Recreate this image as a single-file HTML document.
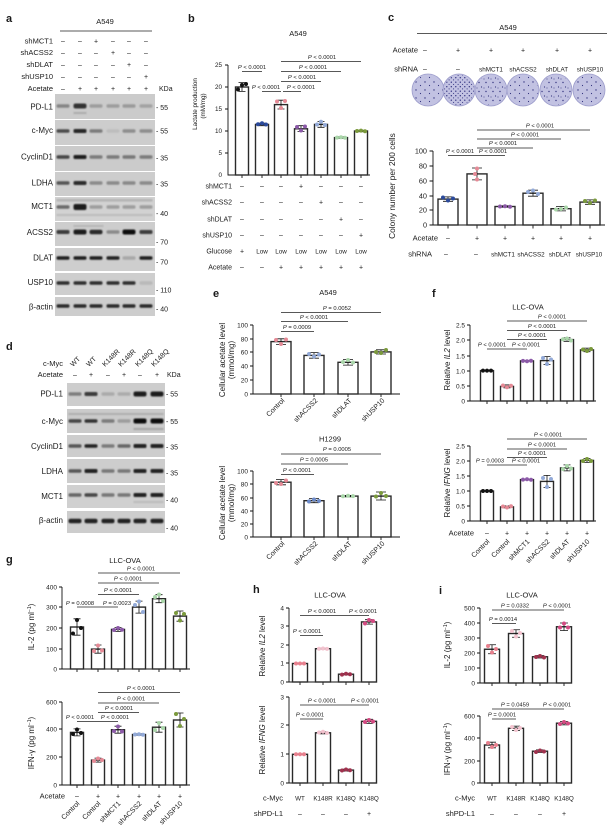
<!DOCTYPE html>
<html><head><meta charset="utf-8">
<style>
html,body{margin:0;padding:0;background:#fff;}
svg{display:block;}
text{font-family:"Liberation Sans",Arial,sans-serif;fill:#1a1a1a;}
.L{font-size:11px;font-weight:bold;}
.ti{font-size:7.5px;text-anchor:middle;}
.tk{font-size:6.5px;text-anchor:end;}
.yl{font-size:8px;text-anchor:middle;}
.r{font-size:7.5px;text-anchor:end;}
.c{font-size:7px;text-anchor:middle;}
.cs{font-size:6.3px;text-anchor:middle;}
.p{font-size:5.8px;text-anchor:middle;}
.bl{font-size:8px;text-anchor:end;}
.mk{font-size:7px;}
.xl{font-size:7px;text-anchor:end;}
.xs{font-size:7px;text-anchor:start;}
.ax{stroke:#111;stroke-width:0.9;fill:none;}
.bar{fill:#fff;stroke:#2a2a2a;stroke-width:1.4;}
.eb{stroke:#111;stroke-width:0.8;fill:none;}
.sg{stroke:#222;stroke-width:0.8;fill:none;}
.k{fill:#111}.nv{fill:#2b4a9c}.pk{fill:#e58a96}.pu{fill:#8c5aa8}.lb{fill:#93aad8}.gr{fill:#a9d6a9}.ol{fill:#7b9a3c}.bu{fill:#6c8bcb}
.hp{fill:#e8808e}.hl{fill:#f3c3cf}.hm{fill:#a0324e}.hg{fill:#d44a82}
</style></head><body>
<svg width="607" height="830" viewBox="0 0 607 830" xmlns="http://www.w3.org/2000/svg">
<defs>
<filter id="bf" x="-20%" y="-80%" width="140%" height="260%"><feGaussianBlur stdDeviation="0.7"/></filter>
<pattern id="d1" width="9" height="8" patternUnits="userSpaceOnUse">
<circle cx="2" cy="2" r="0.7" fill="#34347f"/><circle cx="6.5" cy="5.5" r="0.6" fill="#34347f"/></pattern>
<pattern id="d3" width="7" height="9" patternUnits="userSpaceOnUse">
<circle cx="3" cy="1.5" r="0.7" fill="#34347f"/><circle cx="5.5" cy="6" r="0.6" fill="#34347f"/><circle cx="1" cy="7" r="0.5" fill="#34347f"/></pattern>
<pattern id="d2" width="4.5" height="4.5" patternUnits="userSpaceOnUse">
<circle cx="1.3" cy="1.2" r="0.65" fill="#2a2a7a"/><circle cx="3.6" cy="3.4" r="0.55" fill="#2a2a7a"/></pattern>
</defs>

<!-- ===== Panel a ===== -->
<text class="L" x="6" y="22">a</text>
<text class="ti" x="105" y="24">A549</text>
<line class="sg" x1="60" y1="31" x2="152" y2="31"/>
<text class="r" x="53" y="43.5">shMCT1</text>
<text class="r" x="53" y="55">shACSS2</text>
<text class="r" x="53" y="67">shDLAT</text>
<text class="r" x="53" y="79">shUSP10</text>
<text class="r" x="53" y="91">Acetate</text>
<g class="c">
<text x="63" y="43.5">–</text><text x="80" y="43.5">–</text><text x="96" y="43.5">+</text><text x="113" y="43.5">–</text><text x="129" y="43.5">–</text><text x="146" y="43.5">–</text>
<text x="63" y="55">–</text><text x="80" y="55">–</text><text x="96" y="55">–</text><text x="113" y="55">+</text><text x="129" y="55">–</text><text x="146" y="55">–</text>
<text x="63" y="67">–</text><text x="80" y="67">–</text><text x="96" y="67">–</text><text x="113" y="67">–</text><text x="129" y="67">+</text><text x="146" y="67">–</text>
<text x="63" y="79">–</text><text x="80" y="79">–</text><text x="96" y="79">–</text><text x="113" y="79">–</text><text x="129" y="79">–</text><text x="146" y="79">+</text>
<text x="63" y="91">–</text><text x="80" y="91">+</text><text x="96" y="91">+</text><text x="113" y="91">+</text><text x="129" y="91">+</text><text x="146" y="91">+</text>
</g>
<text class="mk" x="159" y="91">KDa</text>
<rect x="55" y="94" width="100" height="25" fill="#cbcbcb"/>
<rect x="55" y="120" width="100" height="25" fill="#cdcdcd"/>
<rect x="55" y="146" width="100" height="25" fill="#cbcbcb"/>
<rect x="55" y="172" width="100" height="24" fill="#cdcdcd"/>
<rect x="55" y="197" width="100" height="24" fill="#d2d2d2"/>
<rect x="55" y="222" width="100" height="24" fill="#cdcdcd"/>
<rect x="55" y="248" width="100" height="23" fill="#cecece"/>
<rect x="55" y="273" width="100" height="22" fill="#cecece"/>
<rect x="55" y="297" width="100" height="19" fill="#cdcdcd"/>
<g filter="url(#bf)">
<rect x="56.5" y="104.2" width="13" height="3.6" rx="1.5" fill="#858585"/><rect x="73.5" y="103.5" width="13" height="5" rx="2" fill="#333"/><rect x="89.5" y="104.2" width="13" height="3.6" rx="1.5" fill="#9c9c9c"/><rect x="106.5" y="104.2" width="13" height="3.6" rx="1.5" fill="#9c9c9c"/><rect x="122.5" y="104.2" width="13" height="3.6" rx="1.5" fill="#999"/><rect x="139.5" y="104.2" width="13" height="3.6" rx="1.5" fill="#a2a2a2"/>
<rect x="73.5" y="112" width="13" height="2" fill="#ababab"/>
<rect x="56.5" y="129.2" width="13" height="3.6" rx="1.5" fill="#4a4a4a"/><rect x="73.5" y="129" width="13" height="4" rx="1.5" fill="#262626"/><rect x="89.5" y="129.2" width="13" height="3.6" rx="1.5" fill="#7a7a7a"/><rect x="106.5" y="129.2" width="13" height="3.6" rx="1.5" fill="#bdbdbd"/><rect x="122.5" y="129.2" width="13" height="3.6" rx="1.5" fill="#8d8d8d"/><rect x="139.5" y="129.2" width="13" height="3.6" rx="1.5" fill="#8d8d8d"/>
<rect x="56.5" y="155.2" width="13" height="3.6" rx="1.5" fill="#444"/><rect x="73.5" y="155" width="13" height="4" rx="1.5" fill="#1e1e1e"/><rect x="89.5" y="155.2" width="13" height="3.6" rx="1.5" fill="#7a7a7a"/><rect x="106.5" y="155.2" width="13" height="3.6" rx="1.5" fill="#7a7a7a"/><rect x="122.5" y="155.2" width="13" height="3.6" rx="1.5" fill="#777"/><rect x="139.5" y="155.2" width="13" height="3.6" rx="1.5" fill="#7a7a7a"/>
<rect x="56.5" y="181.2" width="13" height="3.6" rx="1.5" fill="#555"/><rect x="73.5" y="181" width="13" height="4" rx="1.5" fill="#2a2a2a"/><rect x="89.5" y="181.2" width="13" height="3.6" rx="1.5" fill="#8a8a8a"/><rect x="106.5" y="181.2" width="13" height="3.6" rx="1.5" fill="#8a8a8a"/><rect x="122.5" y="181.2" width="13" height="3.6" rx="1.5" fill="#888"/><rect x="139.5" y="181.2" width="13" height="3.6" rx="1.5" fill="#8a8a8a"/>
<rect x="56.5" y="199" width="96" height="2.5" fill="#b3b3b3"/>
<rect x="56.5" y="205.2" width="13" height="3.6" rx="1.5" fill="#6a6a6a"/><rect x="73.5" y="204" width="13" height="6" rx="2" fill="#1a1a1a"/><rect x="89.5" y="205.2" width="13" height="3.6" rx="1.5" fill="#9d9d9d"/><rect x="106.5" y="205.2" width="13" height="3.6" rx="1.5" fill="#9d9d9d"/><rect x="122.5" y="205.2" width="13" height="3.6" rx="1.5" fill="#9d9d9d"/><rect x="139.5" y="205.2" width="13" height="3.6" rx="1.5" fill="#9d9d9d"/>
<rect x="56.5" y="214" width="96" height="2" fill="#bbb"/>
<rect x="73.5" y="225" width="30" height="2" fill="#b5b5b5"/>
<rect x="56.5" y="230" width="13" height="4" rx="1.5" fill="#3a3a3a"/><rect x="73.5" y="229.5" width="13" height="5" rx="2" fill="#1a1a1a"/><rect x="89.5" y="229.8" width="13" height="4.4" rx="2" fill="#2a2a2a"/><rect x="106.5" y="230.2" width="13" height="3.6" rx="1.5" fill="#8a8a8a"/><rect x="122.5" y="229.5" width="13" height="5" rx="2" fill="#111"/><rect x="139.5" y="230" width="13" height="4" rx="1.5" fill="#3c3c3c"/>
<rect x="56.5" y="256.3" width="13" height="3.4" rx="1.5" fill="#1e1e1e"/><rect x="73.5" y="256.3" width="13" height="3.4" rx="1.5" fill="#1e1e1e"/><rect x="89.5" y="256.3" width="13" height="3.4" rx="1.5" fill="#1e1e1e"/><rect x="106.5" y="256.3" width="13" height="3.4" rx="1.5" fill="#222"/><rect x="122.5" y="256.3" width="13" height="3.4" rx="1.5" fill="#a8a8a8"/><rect x="139.5" y="256.3" width="13" height="3.4" rx="1.5" fill="#1e1e1e"/>
<rect x="56.5" y="281.3" width="13" height="3.4" rx="1.5" fill="#2e2e2e"/><rect x="73.5" y="281.3" width="13" height="3.4" rx="1.5" fill="#2e2e2e"/><rect x="89.5" y="281.3" width="13" height="3.4" rx="1.5" fill="#2e2e2e"/><rect x="106.5" y="281.3" width="13" height="3.4" rx="1.5" fill="#2e2e2e"/><rect x="122.5" y="281.3" width="13" height="3.4" rx="1.5" fill="#2e2e2e"/><rect x="139.5" y="281.3" width="13" height="3.4" rx="1.5" fill="#b8b8b8"/>
<rect x="56.5" y="304.3" width="13" height="3.4" rx="1.5" fill="#2a2a2a"/><rect x="73.5" y="304.3" width="13" height="3.4" rx="1.5" fill="#2a2a2a"/><rect x="89.5" y="304.3" width="13" height="3.4" rx="1.5" fill="#2a2a2a"/><rect x="106.5" y="304.3" width="13" height="3.4" rx="1.5" fill="#2a2a2a"/><rect x="122.5" y="304.3" width="13" height="3.4" rx="1.5" fill="#2a2a2a"/><rect x="139.5" y="304.3" width="13" height="3.4" rx="1.5" fill="#2a2a2a"/>
</g>
<text class="bl" x="53" y="109.5">PD-L1</text>
<text class="bl" x="53" y="133">c-Myc</text>
<text class="bl" x="53" y="159.5">CyclinD1</text>
<text class="bl" x="53" y="185.5">LDHA</text>
<text class="bl" x="53" y="209">MCT1</text>
<text class="bl" x="53" y="235">ACSS2</text>
<text class="bl" x="53" y="260.5">DLAT</text>
<text class="bl" x="53" y="285">USP10</text>
<text class="bl" x="53" y="309.5">β-actin</text>
<text class="mk" x="156" y="110">- 55</text>
<text class="mk" x="156" y="133.5">- 55</text>
<text class="mk" x="156" y="160.5">- 35</text>
<text class="mk" x="156" y="186.5">- 35</text>
<text class="mk" x="156" y="216">- 40</text>
<text class="mk" x="156" y="244.5">- 70</text>
<text class="mk" x="156" y="264.5">- 70</text>
<text class="mk" x="156" y="292.5">- 110</text>
<text class="mk" x="156" y="311.5">- 40</text>

<!-- ===== Panel b ===== -->
<text class="L" x="188" y="22">b</text>
<text class="ti" x="298" y="36">A549</text>
<text style="font-size:6.3px;text-anchor:middle" transform="translate(197,104) rotate(-90)">Lactate production</text>
<text style="font-size:6.3px;text-anchor:middle" transform="translate(205,106) rotate(-90)">(mM/mg)</text>
<path class="ax" d="M228,65V175H370M225,65H228M225,87H228M225,109H228M225,131H228M225,153H228M242,175V178M262,175V178M281,175V178M301,175V178M321,175V178M341,175V178M361,175V178"/>
<g style="font-size:6.3px;text-anchor:end">
<text x="222" y="67.2">25</text><text x="222" y="89.2">20</text><text x="222" y="111.2">15</text><text x="222" y="133.2">10</text><text x="222" y="155.2">5</text><text x="222" y="177.2">0</text></g>
<rect class="bar" x="235.5" y="87" width="13" height="88"/>
<rect class="bar" x="255.5" y="124.4" width="13" height="50.6"/>
<rect class="bar" x="274.5" y="104.6" width="13" height="70.4"/>
<rect class="bar" x="294.5" y="128.8" width="13" height="46.2"/>
<rect class="bar" x="314.5" y="124.4" width="13" height="50.6"/>
<rect class="bar" x="334.5" y="137.6" width="13" height="37.4"/>
<rect class="bar" x="354.5" y="131" width="13" height="44"/>
<path class="eb" d="M242,82.6V91.4M238.5,82.6H245.5M238.5,91.4H245.5M262,123.1V125.7M258.5,123.1H265.5M258.5,125.7H265.5M281,100.2V109M277.5,100.2H284.5M277.5,109H284.5M301,125.7V131.4M297.5,125.7H304.5M297.5,131.4H304.5M321,121.5V127.3M317.5,121.5H324.5M317.5,127.3H324.5M337.5,136.8H344.5M337.5,138.4H344.5M357.5,130.3H364.5M357.5,131.7H364.5"/>
<circle class="k" cx="238" cy="89.5" r="2"/><circle class="k" cx="242" cy="85" r="2"/><circle class="k" cx="246" cy="84" r="2"/>
<circle class="nv" cx="258" cy="124.2" r="2"/><circle class="nv" cx="262" cy="123.3" r="2"/><circle class="nv" cx="266" cy="124.5" r="2"/>
<circle class="pk" cx="277" cy="101.5" r="2"/><circle class="pk" cx="281" cy="108" r="2"/><circle class="pk" cx="285" cy="101" r="2"/>
<circle class="pu" cx="297" cy="127" r="2"/><circle class="pu" cx="301" cy="130.5" r="2"/><circle class="pu" cx="305" cy="126.5" r="2"/>
<circle class="lb" cx="317" cy="124.5" r="2"/><circle class="lb" cx="321" cy="121.8" r="2"/><circle class="lb" cx="325" cy="125" r="2"/>
<circle class="gr" cx="337" cy="137.6" r="2"/><circle class="gr" cx="341" cy="137.2" r="2"/><circle class="gr" cx="345" cy="137.8" r="2"/>
<circle class="ol" cx="357" cy="131" r="2"/><circle class="ol" cx="361" cy="130.6" r="2"/><circle class="ol" cx="365" cy="131.2" r="2"/>
<path class="sg" d="M242,71.5H262M262,91.5H281M283,91.5H301M281,81.5H321M281,71.5H341M281,61.5H361"/>
<text class="p" x="252" y="69"><tspan font-style="italic">P</tspan> &lt; 0.0001</text>
<text class="p" x="266" y="89"><tspan font-style="italic">P</tspan> &lt; 0.0001</text>
<text class="p" x="301" y="89"><tspan font-style="italic">P</tspan> &lt; 0.0001</text>
<text class="p" x="302" y="79"><tspan font-style="italic">P</tspan> &lt; 0.0001</text>
<text class="p" x="313" y="69"><tspan font-style="italic">P</tspan> &lt; 0.0001</text>
<text class="p" x="322" y="59"><tspan font-style="italic">P</tspan> &lt; 0.0001</text>
<g style="font-size:7px;text-anchor:end">
<text x="232" y="188.5">shMCT1</text><text x="232" y="204.5">shACSS2</text><text x="232" y="221.5">shDLAT</text><text x="232" y="237.5">shUSP10</text><text x="232" y="253.5">Glucose</text><text x="232" y="269.5">Acetate</text></g>
<g class="c">
<text x="242" y="188.5">–</text><text x="262" y="188.5">–</text><text x="281" y="188.5">–</text><text x="301" y="188.5">+</text><text x="321" y="188.5">–</text><text x="341" y="188.5">–</text><text x="361" y="188.5">–</text>
<text x="242" y="204.5">–</text><text x="262" y="204.5">–</text><text x="281" y="204.5">–</text><text x="301" y="204.5">–</text><text x="321" y="204.5">+</text><text x="341" y="204.5">–</text><text x="361" y="204.5">–</text>
<text x="242" y="221.5">–</text><text x="262" y="221.5">–</text><text x="281" y="221.5">–</text><text x="301" y="221.5">–</text><text x="321" y="221.5">–</text><text x="341" y="221.5">+</text><text x="361" y="221.5">–</text>
<text x="242" y="237.5">–</text><text x="262" y="237.5">–</text><text x="281" y="237.5">–</text><text x="301" y="237.5">–</text><text x="321" y="237.5">–</text><text x="341" y="237.5">–</text><text x="361" y="237.5">+</text>
<text x="242" y="253.5">+</text>
<text x="242" y="269.5">–</text><text x="262" y="269.5">–</text><text x="281" y="269.5">+</text><text x="301" y="269.5">+</text><text x="321" y="269.5">+</text><text x="341" y="269.5">+</text><text x="361" y="269.5">+</text>
</g>
<g class="cs"><text x="262" y="253.5">Low</text><text x="281" y="253.5">Low</text><text x="301" y="253.5">Low</text><text x="321" y="253.5">Low</text><text x="341" y="253.5">Low</text><text x="361" y="253.5">Low</text></g>

<!-- ===== Panel c ===== -->
<text class="L" x="388" y="21">c</text>
<text class="ti" x="508" y="30">A549</text>
<line class="sg" x1="417" y1="33.5" x2="607" y2="33.5"/>
<text class="r" x="418" y="52.5">Acetate</text>
<text class="r" x="418" y="71.5">shRNA</text>
<g class="c">
<text x="425" y="52.5">–</text><text x="458" y="52.5">+</text><text x="491" y="52.5">+</text><text x="523" y="52.5">+</text><text x="557" y="52.5">+</text><text x="590" y="52.5">+</text>
<text x="425" y="71.5">–</text><text x="458" y="71.5">–</text></g>
<g class="cs"><text x="491" y="71.5">shMCT1</text><text x="523" y="71.5">shACSS2</text><text x="557" y="71.5">shDLAT</text><text x="590" y="71.5">shUSP10</text></g>
<g stroke="#9c9ccb" stroke-width="0.8" fill="#c2c2e2">
<circle cx="428" cy="90" r="16"/><circle cx="459" cy="90" r="16"/><circle cx="491" cy="90" r="16"/><circle cx="523" cy="90" r="16"/><circle cx="556" cy="90" r="16"/><circle cx="589" cy="90" r="16"/></g>
<circle cx="428" cy="90" r="15" fill="url(#d1)"/>
<circle cx="459" cy="90" r="15" fill="url(#d2)"/>
<circle cx="491" cy="90" r="15" fill="url(#d3)"/>
<circle cx="523" cy="90" r="15" fill="url(#d1)"/>
<circle cx="556" cy="90" r="15" fill="url(#d3)"/>
<circle cx="589" cy="90" r="15" fill="url(#d1)"/>
<text style="font-size:8.3px;text-anchor:middle" transform="translate(395,186) rotate(-90)">Colony number per 200 cells</text>
<path class="ax" d="M433,151V225H605M429.5,151H433M429.5,166H433M429.5,181H433M429.5,196H433M429.5,210H433M429.5,225H433M448,225V228.5M477,225V228.5M505,225V228.5M533,225V228.5M561,225V228.5M590,225V228.5"/>
<g style="font-size:7.3px;text-anchor:end">
<text x="427" y="153.5">100</text><text x="427" y="168.5">80</text><text x="427" y="183.5">60</text><text x="427" y="198.5">40</text><text x="427" y="212.5">20</text><text x="427" y="227.5">0</text></g>
<rect class="bar" x="438" y="199.1" width="20" height="25.9"/>
<rect class="bar" x="467" y="173.9" width="20" height="51.1"/>
<rect class="bar" x="495" y="206.5" width="20" height="18.5"/>
<rect class="bar" x="523" y="193.2" width="20" height="31.8"/>
<rect class="bar" x="551" y="208.7" width="20" height="16.3"/>
<rect class="bar" x="580" y="202.1" width="20" height="22.9"/>
<path class="eb" d="M448,196.9V201.3M443,196.9H453M443,201.3H453M477,168V179.9M472,168H482M472,179.9H482M500,205.8H510M500,207.2H510M533,190.2V196.2M528,190.2H538M528,196.2H538M561,206.5V210.9M556,206.5H566M556,210.9H566M590,199.9V204.3M585,199.9H595M585,204.3H595"/>
<circle class="nv" cx="443" cy="197.5" r="2"/><circle class="nv" cx="448" cy="200.5" r="2"/><circle class="nv" cx="453" cy="198.5" r="2"/>
<circle class="pk" cx="477" cy="168.5" r="2"/><circle class="pk" cx="475" cy="174" r="2"/><circle class="pk" cx="477" cy="179.5" r="2"/>
<circle class="pu" cx="500" cy="206.5" r="2"/><circle class="pu" cx="505" cy="206.3" r="2"/><circle class="pu" cx="510" cy="206.7" r="2"/>
<circle class="lb" cx="528" cy="192" r="2"/><circle class="lb" cx="533" cy="190.5" r="2"/><circle class="lb" cx="538" cy="194" r="2"/>
<circle class="gr" cx="556" cy="209.5" r="2"/><circle class="gr" cx="561" cy="209" r="2"/><circle class="gr" cx="566" cy="207.5" r="2"/>
<circle class="ol" cx="585" cy="201" r="2"/><circle class="ol" cx="590" cy="203" r="2"/><circle class="ol" cx="595" cy="200.5" r="2"/>
<path class="sg" d="M448,155.5H477M477,155.5H505M477,148H533M477,139H561M477,130H590"/>
<text class="p" x="460" y="153"><tspan font-style="italic">P</tspan> &lt; 0.0001</text>
<text class="p" x="493" y="153"><tspan font-style="italic">P</tspan> &lt; 0.0001</text>
<text class="p" x="503" y="145"><tspan font-style="italic">P</tspan> &lt; 0.0001</text>
<text class="p" x="525" y="136.5"><tspan font-style="italic">P</tspan> &lt; 0.0001</text>
<text class="p" x="540" y="127.5"><tspan font-style="italic">P</tspan> &lt; 0.0001</text>
<text class="r" x="438" y="240.5">Acetate</text>
<text class="r" x="432" y="256.5">shRNA</text>
<g class="c"><text x="448" y="240.5">–</text><text x="477" y="240.5">+</text><text x="505" y="240.5">+</text><text x="533" y="240.5">+</text><text x="561" y="240.5">+</text><text x="590" y="240.5">+</text>
<text x="446" y="256.5">–</text><text x="476" y="256.5">–</text></g>
<g class="cs"><text x="503" y="256.5">shMCT1</text><text x="531" y="256.5">shACSS2</text><text x="560" y="256.5">shDLAT</text><text x="589" y="256.5">shUSP10</text></g>

<!-- ===== Panel d ===== -->
<text class="L" x="6" y="350">d</text>
<g class="xs">
<text transform="translate(73,367) rotate(-45)">WT</text>
<text transform="translate(89,367) rotate(-45)">WT</text>
<text transform="translate(105,367) rotate(-45)">K148R</text>
<text transform="translate(121,367) rotate(-45)">K148R</text>
<text transform="translate(138,367) rotate(-45)">K148Q</text>
<text transform="translate(154,367) rotate(-45)">K148Q</text></g>
<text class="r" x="63" y="366">c-Myc</text>
<text class="r" x="63" y="377">Acetate</text>
<g class="c"><text x="75" y="377">–</text><text x="91" y="377">+</text><text x="108" y="377">–</text><text x="124" y="377">+</text><text x="140" y="377">–</text><text x="157" y="377">+</text></g>
<text class="mk" x="167" y="377">KDa</text>
<rect x="67" y="383" width="98" height="23" fill="#cdcdcd"/>
<rect x="67" y="409" width="98" height="24" fill="#cbcbcb"/>
<rect x="67" y="435" width="98" height="22" fill="#cdcdcd"/>
<rect x="67" y="459" width="98" height="24" fill="#cdcdcd"/>
<rect x="67" y="485" width="98" height="23" fill="#d0d0d0"/>
<rect x="67" y="511" width="98" height="22" fill="#cdcdcd"/>
<g filter="url(#bf)">
<rect x="68.5" y="392.2" width="13" height="3.6" rx="1.5" fill="#7d7d7d"/><rect x="84.5" y="392" width="13" height="4" rx="1.5" fill="#3a3a3a"/><rect x="101.5" y="392.2" width="13" height="3.6" rx="1.5" fill="#aaa"/><rect x="117.5" y="392.2" width="13" height="3.6" rx="1.5" fill="#ababab"/><rect x="133.5" y="391.5" width="13" height="5" rx="2" fill="#1e1e1e"/><rect x="150.5" y="391.5" width="13" height="5" rx="2" fill="#1a1a1a"/>
<rect x="68.5" y="413" width="95" height="2" fill="#adadad"/>
<rect x="68.5" y="419.2" width="13" height="3.6" rx="1.5" fill="#444"/><rect x="84.5" y="419.2" width="13" height="3.6" rx="1.5" fill="#333"/><rect x="101.5" y="419.2" width="13" height="3.6" rx="1.5" fill="#7a7a7a"/><rect x="117.5" y="419.2" width="13" height="3.6" rx="1.5" fill="#9c9c9c"/><rect x="133.5" y="418.5" width="13" height="5" rx="2" fill="#111"/><rect x="150.5" y="418.5" width="13" height="5" rx="2" fill="#111"/>
<rect x="133.5" y="428" width="30" height="2" fill="#a5a5a5"/>
<rect x="68.5" y="444.2" width="13" height="3.6" rx="1.5" fill="#555"/><rect x="84.5" y="444.2" width="13" height="3.6" rx="1.5" fill="#222"/><rect x="101.5" y="444.2" width="13" height="3.6" rx="1.5" fill="#7a7a7a"/><rect x="117.5" y="444.2" width="13" height="3.6" rx="1.5" fill="#666"/><rect x="133.5" y="444" width="13" height="4" rx="1.5" fill="#222"/><rect x="150.5" y="444" width="13" height="4" rx="1.5" fill="#222"/>
<rect x="68.5" y="469.2" width="13" height="3.6" rx="1.5" fill="#555"/><rect x="84.5" y="469" width="13" height="4" rx="1.5" fill="#222"/><rect x="101.5" y="469.2" width="13" height="3.6" rx="1.5" fill="#777"/><rect x="117.5" y="469.2" width="13" height="3.6" rx="1.5" fill="#777"/><rect x="133.5" y="469" width="13" height="4" rx="1.5" fill="#222"/><rect x="150.5" y="469" width="13" height="4" rx="1.5" fill="#222"/>
<rect x="68.5" y="493.2" width="13" height="3.6" rx="1.5" fill="#666"/><rect x="84.5" y="493.2" width="13" height="3.6" rx="1.5" fill="#444"/><rect x="101.5" y="493.2" width="13" height="3.6" rx="1.5" fill="#777"/><rect x="117.5" y="493.2" width="13" height="3.6" rx="1.5" fill="#777"/><rect x="133.5" y="493" width="13" height="4" rx="1.5" fill="#222"/><rect x="150.5" y="493" width="13" height="4" rx="1.5" fill="#222"/>
<rect x="133.5" y="501" width="30" height="2" fill="#bbb"/>
<rect x="68.5" y="518.8" width="13" height="4.4" rx="2" fill="#222"/><rect x="84.5" y="518.8" width="13" height="4.4" rx="2" fill="#222"/><rect x="101.5" y="518.8" width="13" height="4.4" rx="2" fill="#222"/><rect x="117.5" y="518.8" width="13" height="4.4" rx="2" fill="#222"/><rect x="133.5" y="518.8" width="13" height="4.4" rx="2" fill="#222"/><rect x="150.5" y="518.8" width="13" height="4.4" rx="2" fill="#222"/>
</g>
<text class="bl" x="63" y="396.5">PD-L1</text>
<text class="bl" x="63" y="424">c-Myc</text>
<text class="bl" x="63" y="449">CyclinD1</text>
<text class="bl" x="63" y="474">LDHA</text>
<text class="bl" x="63" y="499">MCT1</text>
<text class="bl" x="63" y="523">β-actin</text>
<text class="mk" x="166" y="396.5">- 55</text>
<text class="mk" x="166" y="424">- 55</text>
<text class="mk" x="166" y="449.5">- 35</text>
<text class="mk" x="166" y="475.5">- 35</text>
<text class="mk" x="166" y="502.5">- 40</text>
<text class="mk" x="166" y="530.5">- 40</text>

<!-- ===== Panel e ===== -->
<text class="L" x="213" y="297">e</text>
<text class="ti" x="328" y="295">A549</text>
<text class="yl" transform="translate(225,360) rotate(-90)">Cellular acetate level</text>
<text class="yl" transform="translate(234,360) rotate(-90)">(mmol/mg)</text>
<path class="ax" d="M253,325V394H400M250,325H253M250,339H253M250,352H253M250,366H253M250,380H253M250,394H253M281,394V397M314,394V397M348,394V397M381,394V397"/>
<g class="tk"><text x="248" y="327.3">100</text><text x="248" y="341.3">80</text><text x="248" y="354.3">60</text><text x="248" y="368.3">40</text><text x="248" y="382.3">20</text><text x="248" y="396.3">0</text></g>
<rect class="bar" x="271" y="341.6" width="20" height="52.4"/>
<rect class="bar" x="304" y="355.4" width="20" height="38.6"/>
<rect class="bar" x="338" y="362.3" width="20" height="31.7"/>
<rect class="bar" x="371" y="351.9" width="20" height="42.1"/>
<path class="eb" d="M281,338.8V344.4M276,338.8H286M276,344.4H286M314,352.6V358.2M309,352.6H319M309,358.2H319M348,359.5V365.1M343,359.5H353M343,365.1H353M381,349.8V354M376,349.8H386M376,354H386"/>
<circle class="pk" cx="276" cy="340" r="2"/><circle class="pk" cx="281" cy="344" r="2"/><circle class="pk" cx="286" cy="339.5" r="2"/>
<circle class="lb" cx="309" cy="354" r="2"/><circle class="lb" cx="314" cy="356.5" r="2"/><circle class="lb" cx="319" cy="354.5" r="2"/>
<circle class="gr" cx="343" cy="362" r="2"/><circle class="gr" cx="348" cy="360" r="2"/><circle class="gr" cx="353" cy="362.5" r="2"/>
<circle class="ol" cx="376" cy="352" r="2"/><circle class="ol" cx="381" cy="353" r="2"/><circle class="ol" cx="386" cy="350" r="2"/>
<path class="sg" d="M281,331.5H314M281,321.5H348M281,312.5H381"/>
<text class="p" x="297" y="329"><tspan font-style="italic">P</tspan> = 0.0009</text>
<text class="p" x="314" y="319"><tspan font-style="italic">P</tspan> &lt; 0.0001</text>
<text class="p" x="337" y="310"><tspan font-style="italic">P</tspan> = 0.0052</text>
<g class="xl"><text transform="translate(285,401) rotate(-45)">Control</text><text transform="translate(318,401) rotate(-45)">shACSS2</text><text transform="translate(352,401) rotate(-45)">shDLAT</text><text transform="translate(385,401) rotate(-45)">shUSP10</text></g>

<text class="ti" x="330" y="441.5">H1299</text>
<text class="yl" transform="translate(225,503) rotate(-90)">Cellular acetate level</text>
<text class="yl" transform="translate(234,503) rotate(-90)">(mmol/mg)</text>
<path class="ax" d="M253,471V537H400M250,471H253M250,484H253M250,498H253M250,511H253M250,524H253M250,537H253M281,537V540M314,537V540M348,537V540M381,537V540"/>
<g class="tk"><text x="248" y="473.3">100</text><text x="248" y="486.3">80</text><text x="248" y="500.3">60</text><text x="248" y="513.3">40</text><text x="248" y="526.3">20</text><text x="248" y="539.3">0</text></g>
<rect class="bar" x="271" y="482.2" width="20" height="54.8"/>
<rect class="bar" x="304" y="500.7" width="20" height="36.3"/>
<rect class="bar" x="338" y="496.1" width="20" height="40.9"/>
<rect class="bar" x="371" y="496.1" width="20" height="40.9"/>
<path class="eb" d="M281,479.6V484.8M276,479.6H286M276,484.8H286M314,498.7V502.7M309,498.7H319M309,502.7H319M343,495.4H353M343,496.8H353M381,492V500M376,492H386M376,500H386"/>
<circle class="pk" cx="276" cy="483" r="2"/><circle class="pk" cx="281" cy="484" r="2"/><circle class="pk" cx="286" cy="480.5" r="2"/>
<circle class="bu" cx="309" cy="501.5" r="2"/><circle class="bu" cx="314" cy="499.5" r="2"/><circle class="bu" cx="319" cy="501" r="2"/>
<circle class="gr" cx="343" cy="496.3" r="2"/><circle class="gr" cx="348" cy="495.8" r="2"/><circle class="gr" cx="353" cy="496.1" r="2"/>
<circle class="ol" cx="376" cy="496.5" r="2"/><circle class="ol" cx="381" cy="493" r="2"/><circle class="ol" cx="386" cy="496" r="2"/>
<path class="sg" d="M281,474.5H314M281,464H348M281,454H381"/>
<text class="p" x="297" y="472"><tspan font-style="italic">P</tspan> &lt; 0.0001</text>
<text class="p" x="314" y="461.5"><tspan font-style="italic">P</tspan> = 0.0005</text>
<text class="p" x="337" y="451"><tspan font-style="italic">P</tspan> = 0.0005</text>
<g class="xl"><text transform="translate(285,544) rotate(-45)">Control</text><text transform="translate(318,544) rotate(-45)">shACSS2</text><text transform="translate(352,544) rotate(-45)">shDLAT</text><text transform="translate(385,544) rotate(-45)">shUSP10</text></g>

<!-- ===== Panel f ===== -->
<text class="L" x="432" y="297">f</text>
<text class="ti" x="528" y="309.5">LLC-OVA</text>
<text class="yl" transform="translate(450,360) rotate(-90)">Relative <tspan font-style="italic">IL2</tspan> level</text>
<path class="ax" d="M470,325V401H596M467,325H470M467,340H470M467,356H470M467,371H470M467,386H470M467,401H470M487,401V404M507,401V404M527,401V404M547,401V404M567,401V404M587,401V404"/>
<g class="tk"><text x="465" y="327.3">2.5</text><text x="465" y="342.3">2.0</text><text x="465" y="358.3">1.5</text><text x="465" y="373.3">1.0</text><text x="465" y="388.3">0.5</text><text x="465" y="403.3">0</text></g>
<rect class="bar" x="480.5" y="370.6" width="13" height="30.4"/>
<rect class="bar" x="500.5" y="386.4" width="13" height="14.6"/>
<rect class="bar" x="520.5" y="360.9" width="13" height="40.1"/>
<rect class="bar" x="540.5" y="360.6" width="13" height="40.4"/>
<rect class="bar" x="560.5" y="339.6" width="13" height="61.4"/>
<rect class="bar" x="580.5" y="349.9" width="13" height="51.1"/>
<path class="eb" d="M483.5,370.6H490.5M507,384.9V387.9M503.5,384.9H510.5M503.5,387.9H510.5M523.5,360.9H530.5M547,356.6V364.6M543.5,356.6H550.5M543.5,364.6H550.5M567,337.8V341.4M563.5,337.8H570.5M563.5,341.4H570.5M587,348.1V351.7M583.5,348.1H590.5M583.5,351.7H590.5"/>
<circle class="k" cx="483" cy="370.6" r="2"/><circle class="k" cx="487" cy="370.6" r="2"/><circle class="k" cx="491" cy="370.6" r="2"/>
<circle class="pk" cx="503" cy="385.5" r="2"/><circle class="pk" cx="507" cy="387.2" r="2"/><circle class="pk" cx="511" cy="385.8" r="2"/>
<circle class="pu" cx="523" cy="360.9" r="2"/><circle class="pu" cx="527" cy="361.2" r="2"/><circle class="pu" cx="531" cy="360.7" r="2"/>
<circle class="lb" cx="543" cy="358" r="2"/><circle class="lb" cx="547" cy="364" r="2"/><circle class="lb" cx="551" cy="359.5" r="2"/>
<circle class="gr" cx="563" cy="339.2" r="2"/><circle class="gr" cx="567" cy="338.5" r="2"/><circle class="gr" cx="571" cy="340.5" r="2"/>
<circle class="ol" cx="583" cy="349.5" r="2"/><circle class="ol" cx="587" cy="351" r="2"/><circle class="ol" cx="591" cy="349" r="2"/>
<path class="sg" d="M487,349H507M507,349H527M507,339.5H547M507,330.5H567M507,321H587"/>
<text class="p" x="492" y="346.5"><tspan font-style="italic">P</tspan> &lt; 0.0001</text>
<text class="p" x="526" y="346.5"><tspan font-style="italic">P</tspan> &lt; 0.0001</text>
<text class="p" x="532" y="337"><tspan font-style="italic">P</tspan> &lt; 0.0001</text>
<text class="p" x="542" y="328"><tspan font-style="italic">P</tspan> &lt; 0.0001</text>
<text class="p" x="552" y="318.5"><tspan font-style="italic">P</tspan> &lt; 0.0001</text>

<text class="yl" transform="translate(450,483) rotate(-90)">Relative <tspan font-style="italic">IFNG</tspan> level</text>
<path class="ax" d="M470,446V521H596M467,446H470M467,461H470M467,476H470M467,491H470M467,506H470M467,521H470M487,521V524M507,521V524M527,521V524M547,521V524M567,521V524M587,521V524"/>
<g class="tk"><text x="465" y="448.3">2.5</text><text x="465" y="463.3">2.0</text><text x="465" y="478.3">1.5</text><text x="465" y="493.3">1.0</text><text x="465" y="508.3">0.5</text><text x="465" y="523.3">0</text></g>
<rect class="bar" x="480.5" y="491" width="13" height="30"/>
<rect class="bar" x="500.5" y="506.9" width="13" height="14.1"/>
<rect class="bar" x="520.5" y="479.6" width="13" height="41.4"/>
<rect class="bar" x="540.5" y="481.4" width="13" height="39.6"/>
<rect class="bar" x="560.5" y="467.9" width="13" height="53.1"/>
<rect class="bar" x="580.5" y="460.4" width="13" height="60.6"/>
<path class="eb" d="M483.5,491H490.5M503.5,505.9H510.5M503.5,507.9H510.5M523.5,479.6H530.5M547,475.4V487.4M543.5,475.4H550.5M543.5,487.4H550.5M567,464.9V470.9M563.5,464.9H570.5M563.5,470.9H570.5M587,458.4V462.4M583.5,458.4H590.5M583.5,462.4H590.5"/>
<circle class="k" cx="483" cy="491" r="2"/><circle class="k" cx="487" cy="491" r="2"/><circle class="k" cx="491" cy="491" r="2"/>
<circle class="pk" cx="503" cy="506.5" r="2"/><circle class="pk" cx="507" cy="507.5" r="2"/><circle class="pk" cx="511" cy="506.3" r="2"/>
<circle class="pu" cx="523" cy="479.6" r="2"/><circle class="pu" cx="527" cy="479.3" r="2"/><circle class="pu" cx="531" cy="479.8" r="2"/>
<circle class="lb" cx="543" cy="478" r="2"/><circle class="lb" cx="547" cy="487" r="2"/><circle class="lb" cx="551" cy="479" r="2"/>
<circle class="gr" cx="563" cy="469" r="2"/><circle class="gr" cx="567" cy="466" r="2"/><circle class="gr" cx="571" cy="468.5" r="2"/>
<circle class="ol" cx="583" cy="461" r="2"/><circle class="ol" cx="587" cy="459" r="2"/><circle class="ol" cx="591" cy="461" r="2"/>
<path class="sg" d="M487,465H507M507,465H527M507,457.5H547M507,449H567M507,439H587"/>
<text class="p" x="490" y="462.5"><tspan font-style="italic">P</tspan> = 0.0003</text>
<text class="p" x="526" y="462.5"><tspan font-style="italic">P</tspan> &lt; 0.0001</text>
<text class="p" x="532" y="455"><tspan font-style="italic">P</tspan> &lt; 0.0001</text>
<text class="p" x="542" y="446.5"><tspan font-style="italic">P</tspan> &lt; 0.0001</text>
<text class="p" x="548" y="436.5"><tspan font-style="italic">P</tspan> &lt; 0.0001</text>
<text class="r" x="474" y="535.5">Acetate</text>
<g class="c"><text x="487" y="535.5">–</text><text x="507" y="535.5">+</text><text x="527" y="535.5">+</text><text x="547" y="535.5">+</text><text x="567" y="535.5">+</text><text x="587" y="535.5">+</text></g>
<g class="xl"><text transform="translate(490,542) rotate(-45)">Control</text><text transform="translate(510,542) rotate(-45)">Control</text><text transform="translate(530,542) rotate(-45)">shMCT1</text><text transform="translate(550,542) rotate(-45)">shACSS2</text><text transform="translate(570,542) rotate(-45)">shDLAT</text><text transform="translate(590,542) rotate(-45)">shUSP10</text></g>

<!-- ===== Panel g ===== -->
<text class="L" x="6" y="563">g</text>
<text class="ti" x="125" y="563">LLC-OVA</text>
<text class="yl" transform="translate(34,627) rotate(-90)">IL-2 (pg ml<tspan font-size="5" dy="-3">−1</tspan><tspan dy="3">)</tspan></text>
<path class="ax" d="M62,587V669H190M59,587H62M59,607H62M59,628H62M59,649H62M59,669H62M77,669V672M98,669V672M118,669V672M139,669V672M159,669V672M180,669V672"/>
<g class="tk"><text x="57" y="589.3">400</text><text x="57" y="609.3">300</text><text x="57" y="630.3">200</text><text x="57" y="651.3">100</text><text x="57" y="671.3">0</text></g>
<rect class="bar" x="70.5" y="627" width="13" height="42"/>
<rect class="bar" x="91.5" y="649.1" width="13" height="19.9"/>
<rect class="bar" x="111.5" y="629.4" width="13" height="39.6"/>
<rect class="bar" x="132.5" y="607.1" width="13" height="61.9"/>
<rect class="bar" x="152.5" y="598.7" width="13" height="70.3"/>
<rect class="bar" x="173.5" y="616.1" width="13" height="52.9"/>
<path class="eb" d="M77,618.8V635.2M73.5,618.8H80.5M73.5,635.2H80.5M98,645V653.2M94.5,645H101.5M94.5,653.2H101.5M118,627.4V631.4M114.5,627.4H121.5M114.5,631.4H121.5M139,601.1V613.1M135.5,601.1H142.5M135.5,613.1H142.5M159,594.7V602.7M155.5,594.7H162.5M155.5,602.7H162.5M180,611V621.2M176.5,611H183.5M176.5,621.2H183.5"/>
<circle class="k" cx="73" cy="633.5" r="2"/><circle class="k" cx="77" cy="620" r="2"/><circle class="k" cx="81" cy="628" r="2"/>
<circle class="pk" cx="94" cy="651" r="2"/><circle class="pk" cx="98" cy="645.5" r="2"/><circle class="pk" cx="102" cy="650.5" r="2"/>
<circle class="pu" cx="114" cy="630" r="2"/><circle class="pu" cx="118" cy="628" r="2"/><circle class="pu" cx="122" cy="629.8" r="2"/>
<circle class="lb" cx="135" cy="605" r="2"/><circle class="lb" cx="139" cy="601.5" r="2"/><circle class="lb" cx="143" cy="612" r="2"/>
<circle class="gr" cx="155" cy="597" r="2"/><circle class="gr" cx="159" cy="594.5" r="2"/><circle class="gr" cx="163" cy="601" r="2"/>
<circle class="ol" cx="176" cy="613" r="2"/><circle class="ol" cx="180" cy="620.5" r="2"/><circle class="ol" cx="184" cy="614" r="2"/>
<path class="sg" d="M77,607H98M98,607H118M98,594.5H139M98,583H159M98,573H180"/>
<text class="p" x="80" y="605"><tspan font-style="italic">P</tspan> = 0.0008</text>
<text class="p" x="117" y="605"><tspan font-style="italic">P</tspan> = 0.0023</text>
<text class="p" x="118" y="592"><tspan font-style="italic">P</tspan> &lt; 0.0001</text>
<text class="p" x="128" y="580.5"><tspan font-style="italic">P</tspan> &lt; 0.0001</text>
<text class="p" x="141" y="570.5"><tspan font-style="italic">P</tspan> &lt; 0.0001</text>

<text class="yl" transform="translate(34,743) rotate(-90)">IFN-γ (pg ml<tspan font-size="5" dy="-3">−1</tspan><tspan dy="3">)</tspan></text>
<path class="ax" d="M62,702V785H190M59,702H62M59,729H62M59,757H62M59,785H62M77,785V788M98,785V788M118,785V788M139,785V788M159,785V788M180,785V788"/>
<g class="tk"><text x="57" y="704.3">600</text><text x="57" y="731.3">400</text><text x="57" y="759.3">200</text><text x="57" y="787.3">0</text></g>
<rect class="bar" x="70.5" y="732.4" width="13" height="52.6"/>
<rect class="bar" x="91.5" y="760.1" width="13" height="24.9"/>
<rect class="bar" x="111.5" y="729.7" width="13" height="55.3"/>
<rect class="bar" x="132.5" y="734.5" width="13" height="50.5"/>
<rect class="bar" x="152.5" y="727.2" width="13" height="57.8"/>
<rect class="bar" x="173.5" y="720" width="13" height="65"/>
<path class="eb" d="M77,728.9V735.9M73.5,728.9H80.5M73.5,735.9H80.5M98,758.1V762.1M94.5,758.1H101.5M94.5,762.1H101.5M118,726.2V733.2M114.5,726.2H121.5M114.5,733.2H121.5M135.5,733.8H142.5M135.5,735.2H142.5M159,722.2V732.2M155.5,722.2H162.5M155.5,732.2H162.5M180,713V727M176.5,713H183.5M176.5,727H183.5"/>
<circle class="k" cx="73" cy="734" r="2"/><circle class="k" cx="77" cy="729.5" r="2"/><circle class="k" cx="81" cy="733" r="2"/>
<circle class="pk" cx="94" cy="761" r="2"/><circle class="pk" cx="98" cy="758.5" r="2"/><circle class="pk" cx="102" cy="760" r="2"/>
<circle class="pu" cx="114" cy="731" r="2"/><circle class="pu" cx="118" cy="726.5" r="2"/><circle class="pu" cx="122" cy="731.5" r="2"/>
<circle class="lb" cx="135" cy="734.5" r="2"/><circle class="lb" cx="139" cy="734.2" r="2"/><circle class="lb" cx="143" cy="734.7" r="2"/>
<circle class="gr" cx="155" cy="730" r="2"/><circle class="gr" cx="159" cy="723" r="2"/><circle class="gr" cx="163" cy="728" r="2"/>
<circle class="ol" cx="176" cy="714" r="2"/><circle class="ol" cx="180" cy="726" r="2"/><circle class="ol" cx="184" cy="719" r="2"/>
<path class="sg" d="M77,721.5H98M98,721.5H118M98,712.5H139M98,703H159M98,692.5H180"/>
<text class="p" x="80" y="719"><tspan font-style="italic">P</tspan> &lt; 0.0001</text>
<text class="p" x="115" y="719"><tspan font-style="italic">P</tspan> &lt; 0.0001</text>
<text class="p" x="119" y="710"><tspan font-style="italic">P</tspan> &lt; 0.0001</text>
<text class="p" x="131" y="700.5"><tspan font-style="italic">P</tspan> &lt; 0.0001</text>
<text class="p" x="141" y="690"><tspan font-style="italic">P</tspan> &lt; 0.0001</text>
<text class="r" x="65" y="798.5">Acetate</text>
<g class="c"><text x="77" y="798.5">–</text><text x="98" y="798.5">+</text><text x="118" y="798.5">+</text><text x="139" y="798.5">+</text><text x="159" y="798.5">+</text><text x="180" y="798.5">+</text></g>
<g class="xl"><text transform="translate(80,804) rotate(-45)">Control</text><text transform="translate(101,804) rotate(-45)">Control</text><text transform="translate(121,804) rotate(-45)">shMCT1</text><text transform="translate(142,804) rotate(-45)">shACSS2</text><text transform="translate(162,804) rotate(-45)">shDLAT</text><text transform="translate(183,804) rotate(-45)">shUSP10</text></g>

<!-- ===== Panel h ===== -->
<text class="L" x="253" y="593">h</text>
<text class="ti" x="330" y="597.5">LLC-OVA</text>
<text class="yl" transform="translate(265,646) rotate(-90)">Relative <tspan font-style="italic">IL2</tspan> level</text>
<path class="ax" d="M289,608V682H377M286,608H289M286,626H289M286,645H289M286,663H289M286,682H289M300,682V685M323,682V685M346,682V685M369,682V685"/>
<g class="tk"><text x="284" y="610.3">4</text><text x="284" y="628.3">3</text><text x="284" y="647.3">2</text><text x="284" y="665.3">1</text><text x="284" y="684.3">0</text></g>
<rect class="bar" x="292.5" y="663.5" width="15" height="18.5"/>
<rect class="bar" x="315.5" y="648.7" width="15" height="33.3"/>
<rect class="bar" x="338.5" y="674.2" width="15" height="7.8"/>
<rect class="bar" x="361.5" y="621.9" width="15" height="60.1"/>
<path class="eb" d="M296,663.5H304M319,648.3H327M319,649.1H327M342,673.5H350M342,674.9H350M369,619.7V624.1M365,619.7H373M365,624.1H373"/>
<circle class="hp" cx="296" cy="663.5" r="2"/><circle class="hp" cx="300" cy="663.5" r="2"/><circle class="hp" cx="304" cy="663.5" r="2"/>
<circle class="hl" cx="319" cy="648.7" r="2"/><circle class="hl" cx="323" cy="648.5" r="2"/><circle class="hl" cx="327" cy="648.9" r="2"/>
<circle class="hm" cx="342" cy="674.6" r="2"/><circle class="hm" cx="346" cy="673.8" r="2"/><circle class="hm" cx="350" cy="674.2" r="2"/>
<circle class="hg" cx="365" cy="623.5" r="2"/><circle class="hg" cx="369" cy="620" r="2"/><circle class="hg" cx="373" cy="621" r="2"/>
<path class="sg" d="M300,635.5H323M300,615.5H346M346,615.5H369"/>
<text class="p" x="307" y="633"><tspan font-style="italic">P</tspan> &lt; 0.0001</text>
<text class="p" x="322" y="613"><tspan font-style="italic">P</tspan> &lt; 0.0001</text>
<text class="p" x="363" y="613"><tspan font-style="italic">P</tspan> &lt; 0.0001</text>

<text class="yl" transform="translate(265,740) rotate(-90)">Relative <tspan font-style="italic">IFNG</tspan> level</text>
<path class="ax" d="M289,697V783H377M286,697H289M286,725H289M286,754H289M286,783H289M300,783V786M323,783V786M346,783V786M369,783V786"/>
<g class="tk"><text x="284" y="699.3">3</text><text x="284" y="727.3">2</text><text x="284" y="756.3">1</text><text x="284" y="785.3">0</text></g>
<rect class="bar" x="292.5" y="754.3" width="15" height="28.7"/>
<rect class="bar" x="315.5" y="732.8" width="15" height="50.2"/>
<rect class="bar" x="338.5" y="770.1" width="15" height="12.9"/>
<rect class="bar" x="361.5" y="721.3" width="15" height="61.7"/>
<path class="eb" d="M296,754.3H304M319,731.8H327M319,733.8H327M342,769.1H350M342,771.1H350M369,719.3V723.3M365,719.3H373M365,723.3H373"/>
<circle class="hp" cx="296" cy="754.3" r="2"/><circle class="hp" cx="300" cy="754.3" r="2"/><circle class="hp" cx="304" cy="754.3" r="2"/>
<circle class="hl" cx="319" cy="732.5" r="2"/><circle class="hl" cx="323" cy="731.8" r="2"/><circle class="hl" cx="327" cy="733" r="2"/>
<circle class="hm" cx="342" cy="770.5" r="2"/><circle class="hm" cx="346" cy="769.5" r="2"/><circle class="hm" cx="350" cy="770.2" r="2"/>
<circle class="hg" cx="365" cy="722" r="2"/><circle class="hg" cx="369" cy="720" r="2"/><circle class="hg" cx="373" cy="721.5" r="2"/>
<path class="sg" d="M300,719H323M300,705H346M346,705H369"/>
<text class="p" x="310" y="716.5"><tspan font-style="italic">P</tspan> &lt; 0.0001</text>
<text class="p" x="322" y="702.5"><tspan font-style="italic">P</tspan> &lt; 0.0001</text>
<text class="p" x="365" y="702.5"><tspan font-style="italic">P</tspan> &lt; 0.0001</text>
<text class="r" x="283" y="800.5">c-Myc</text>
<text class="r" x="283" y="816">shPD-L1</text>
<g class="cs"><text x="300" y="800.5">WT</text><text x="323" y="800.5">K148R</text><text x="346" y="800.5">K148Q</text><text x="369" y="800.5">K148Q</text></g>
<g class="c"><text x="300" y="816">–</text><text x="323" y="816">–</text><text x="346" y="816">–</text><text x="369" y="816">+</text></g>

<!-- ===== Panel i ===== -->
<text class="L" x="439" y="594">i</text>
<text class="ti" x="522" y="597.5">LLC-OVA</text>
<text class="yl" transform="translate(450,645) rotate(-90)">IL-2 (pg ml<tspan font-size="5" dy="-3">−1</tspan><tspan dy="3">)</tspan></text>
<path class="ax" d="M480,608V683H572M477,608H480M477,623H480M477,638H480M477,653H480M477,668H480M477,683H480M492,683V686M516,683V686M540,683V686M564,683V686"/>
<g class="tk"><text x="475" y="610.3">500</text><text x="475" y="625.3">400</text><text x="475" y="640.3">300</text><text x="475" y="655.3">200</text><text x="475" y="670.3">100</text><text x="475" y="685.3">0</text></g>
<rect class="bar" x="484.5" y="649.25" width="15" height="33.75"/>
<rect class="bar" x="508.5" y="633.5" width="15" height="49.5"/>
<rect class="bar" x="532.5" y="656.75" width="15" height="26.25"/>
<rect class="bar" x="556.5" y="626.75" width="15" height="56.25"/>
<path class="eb" d="M492,644.75V653.75M488,644.75H496M488,653.75H496M516,629.75V637.25M512,629.75H520M512,637.25H520M536,655.5H544M536,658H544M564,623V630.5M560,623H568M560,630.5H568"/>
<circle class="hp" cx="488" cy="646" r="2"/><circle class="hp" cx="492" cy="652.5" r="2"/><circle class="hp" cx="496" cy="649" r="2"/>
<circle class="hl" cx="512" cy="631" r="2"/><circle class="hl" cx="516" cy="636.5" r="2"/><circle class="hl" cx="520" cy="633" r="2"/>
<circle class="hm" cx="536" cy="657" r="2"/><circle class="hm" cx="540" cy="656" r="2"/><circle class="hm" cx="544" cy="657.5" r="2"/>
<circle class="hg" cx="560" cy="627.5" r="2"/><circle class="hg" cx="564" cy="623.5" r="2"/><circle class="hg" cx="568" cy="627.5" r="2"/>
<path class="sg" d="M492,623.5H516M492,610H540M540,610H564"/>
<text class="p" x="503" y="621"><tspan font-style="italic">P</tspan> = 0.0014</text>
<text class="p" x="515" y="607.5"><tspan font-style="italic">P</tspan> = 0.0332</text>
<text class="p" x="557" y="607.5"><tspan font-style="italic">P</tspan> &lt; 0.0001</text>

<text class="yl" transform="translate(450,749) rotate(-90)">IFN-γ (pg ml<tspan font-size="5" dy="-3">−1</tspan><tspan dy="3">)</tspan></text>
<path class="ax" d="M480,716V783H572M477,716H480M477,738H480M477,761H480M477,783H480M492,783V786M516,783V786M540,783V786M564,783V786"/>
<g class="tk"><text x="475" y="718.3">600</text><text x="475" y="740.3">400</text><text x="475" y="763.3">200</text><text x="475" y="785.3">0</text></g>
<rect class="bar" x="484.5" y="745" width="15" height="38"/>
<rect class="bar" x="508.5" y="728.3" width="15" height="54.7"/>
<rect class="bar" x="532.5" y="751.2" width="15" height="31.8"/>
<rect class="bar" x="556.5" y="723.2" width="15" height="59.8"/>
<path class="eb" d="M492,742.2V747.8M488,742.2H496M488,747.8H496M516,726.1V730.5M512,726.1H520M512,730.5H520M536,749.9H544M536,752.5H544M564,721.5V724.9M560,721.5H568M560,724.9H568"/>
<circle class="hp" cx="488" cy="743" r="2"/><circle class="hp" cx="492" cy="747" r="2"/><circle class="hp" cx="496" cy="745" r="2"/>
<circle class="hl" cx="512" cy="727" r="2"/><circle class="hl" cx="516" cy="730" r="2"/><circle class="hl" cx="520" cy="728" r="2"/>
<circle class="hm" cx="536" cy="752" r="2"/><circle class="hm" cx="540" cy="750.5" r="2"/><circle class="hm" cx="544" cy="751.5" r="2"/>
<circle class="hg" cx="560" cy="724" r="2"/><circle class="hg" cx="564" cy="722" r="2"/><circle class="hg" cx="568" cy="723.5" r="2"/>
<path class="sg" d="M492,719H516M492,709H540M540,709H564"/>
<text class="p" x="502" y="716.5"><tspan font-style="italic">P</tspan> = 0.0001</text>
<text class="p" x="515" y="706.5"><tspan font-style="italic">P</tspan> = 0.0459</text>
<text class="p" x="557" y="706.5"><tspan font-style="italic">P</tspan> &lt; 0.0001</text>
<text class="r" x="475" y="800.5">c-Myc</text>
<text class="r" x="475" y="816">shPD-L1</text>
<g class="cs"><text x="492" y="800.5">WT</text><text x="516" y="800.5">K148R</text><text x="540" y="800.5">K148Q</text><text x="564" y="800.5">K148Q</text></g>
<g class="c"><text x="492" y="816">–</text><text x="516" y="816">–</text><text x="540" y="816">–</text><text x="564" y="816">+</text></g>
</svg>
</body></html>
